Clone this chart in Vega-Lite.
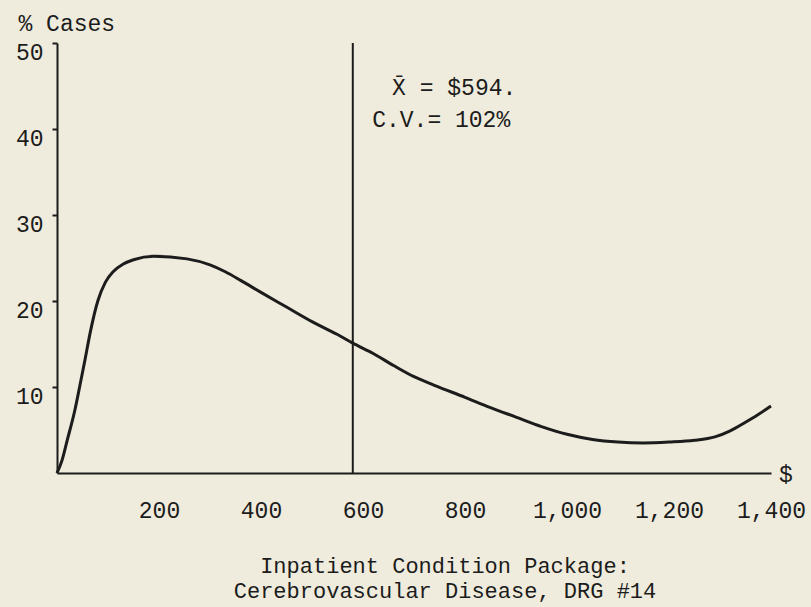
{
  "$schema": "https://vega.github.io/schema/vega-lite/v6.json",
  "width": 714,
  "height": 430,
  "autosize": "none",
  "padding": {"left": 57, "top": 43, "right": 40, "bottom": 134},
  "background": "#efecdd",
  "config": {
    "view": {"stroke": null},
    "font": "Liberation Mono",
    "axis": {"grid": false}
  },
  "title": {
    "text": ["Inpatient Condition Package:", "Cerebrovascular Disease, DRG #14"],
    "orient": "bottom",
    "anchor": "middle",
    "dx": 31,
    "offset": 34,
    "font": "Liberation Mono",
    "fontSize": 22,
    "fontWeight": "normal",
    "lineHeight": 25,
    "color": "#1c1c1c"
  },
  "datasets": {
    "curve": [
      {"cost": 0, "pct": 0},
      {"cost": 10, "pct": 1.5},
      {"cost": 20, "pct": 3.8},
      {"cost": 35, "pct": 7.3},
      {"cost": 45, "pct": 10.2},
      {"cost": 55, "pct": 13.2},
      {"cost": 65, "pct": 16.3},
      {"cost": 80, "pct": 20.0},
      {"cost": 95, "pct": 22.2},
      {"cost": 110, "pct": 23.4},
      {"cost": 130, "pct": 24.3},
      {"cost": 150, "pct": 24.8},
      {"cost": 190, "pct": 25.2},
      {"cost": 255, "pct": 24.9},
      {"cost": 300, "pct": 24.2},
      {"cost": 330, "pct": 23.4},
      {"cost": 360, "pct": 22.4},
      {"cost": 400, "pct": 21.0},
      {"cost": 450, "pct": 19.3},
      {"cost": 500, "pct": 17.6},
      {"cost": 550, "pct": 16.1},
      {"cost": 580, "pct": 15.1},
      {"cost": 620, "pct": 13.9},
      {"cost": 660, "pct": 12.5},
      {"cost": 700, "pct": 11.2},
      {"cost": 740, "pct": 10.2},
      {"cost": 800, "pct": 8.8},
      {"cost": 850, "pct": 7.6},
      {"cost": 900, "pct": 6.5},
      {"cost": 950, "pct": 5.4},
      {"cost": 1000, "pct": 4.5},
      {"cost": 1050, "pct": 3.9},
      {"cost": 1100, "pct": 3.6},
      {"cost": 1150, "pct": 3.5},
      {"cost": 1200, "pct": 3.6},
      {"cost": 1250, "pct": 3.8},
      {"cost": 1290, "pct": 4.2},
      {"cost": 1320, "pct": 4.9},
      {"cost": 1350, "pct": 5.9},
      {"cost": 1375, "pct": 6.8},
      {"cost": 1400, "pct": 7.8}
    ],
    "mean": [{"cost": 580}],
    "notes": [
      {"cost": 657, "pct": 44.8, "label": "X\u0304 = $594."},
      {"cost": 618, "pct": 41.0, "label": "C.V.= 102%"}
    ],
    "unit": [{"cost": 1400, "label": "$"}]
  },
  "layer": [
    {
      "data": {"name": "curve"},
      "mark": {"type": "line", "interpolate": "monotone", "color": "#1c1c1c", "strokeWidth": 3},
      "encoding": {
        "x": {
          "field": "cost",
          "type": "quantitative",
          "scale": {"domain": [0, 1400], "nice": false, "zero": false},
          "axis": {
            "values": [200, 400, 600, 800, 1000, 1200, 1400],
            "format": ",.0f",
            "ticks": false,
            "tickSize": 0,
            "labelPadding": 37,
            "labelBaseline": "middle",
            "labelFont": "Liberation Mono",
            "labelFontSize": 23,
            "labelColor": "#1c1c1c",
            "labelFlush": false,
            "labelOverlap": false,
            "domainColor": "#1c1c1c",
            "domainWidth": 2,
            "title": null
          }
        },
        "y": {
          "field": "pct",
          "type": "quantitative",
          "scale": {"domain": [0, 50], "nice": false},
          "axis": {
            "values": [10, 20, 30, 40, 50],
            "tickSize": 5,
            "tickWidth": 2,
            "tickColor": "#1c1c1c",
            "labelPadding": 9,
            "labelOffset": 9,
            "labelFont": "Liberation Mono",
            "labelFontSize": 23,
            "labelColor": "#1c1c1c",
            "domainColor": "#1c1c1c",
            "domainWidth": 2,
            "title": "% Cases",
            "titleAngle": 0,
            "titleAlign": "left",
            "titleBaseline": "middle",
            "titleX": -39,
            "titleY": -20,
            "titleFont": "Liberation Mono",
            "titleFontSize": 23,
            "titleFontWeight": "normal",
            "titleColor": "#1c1c1c"
          }
        }
      }
    },
    {
      "data": {"name": "mean"},
      "mark": {"type": "rule", "color": "#1c1c1c", "strokeWidth": 2},
      "encoding": {"x": {"field": "cost", "type": "quantitative"}}
    },
    {
      "data": {"name": "notes"},
      "mark": {"type": "text", "align": "left", "baseline": "middle", "fontSize": 23, "font": "Liberation Mono", "color": "#1c1c1c"},
      "encoding": {
        "x": {"field": "cost", "type": "quantitative"},
        "y": {"field": "pct", "type": "quantitative"},
        "text": {"field": "label"}
      }
    },
    {
      "data": {"name": "unit"},
      "mark": {"type": "text", "align": "left", "baseline": "middle", "dx": 8, "dy": 2, "fontSize": 23, "font": "Liberation Mono", "color": "#1c1c1c"},
      "encoding": {
        "x": {"field": "cost", "type": "quantitative"},
        "y": {"datum": 0},
        "text": {"field": "label"}
      }
    }
  ]
}
